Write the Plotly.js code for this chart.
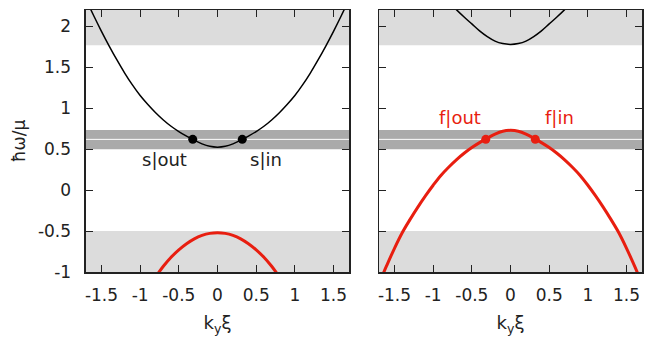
<!DOCTYPE html>
<html>
<head>
<meta charset="utf-8">
<script src="https://cdn.plot.ly/plotly-3.0.1.min.js"></script>
<style>
  html, body { margin: 0; padding: 0; background: #fff; }
  #plot { width: 651px; height: 339px; }
</style>
</head>
<body>
<div id="plot"></div>
<script>
// ---- data ----
const kFull = [-1.7, -1.6, -1.5, -1.4, -1.3, -1.2, -1.1, -1.0, -0.9, -0.8, -0.7, -0.6, -0.5, -0.4, -0.3, -0.2, -0.1,
               0, 0.1, 0.2, 0.3, 0.4, 0.5, 0.6, 0.7, 0.8, 0.9, 1.0, 1.1, 1.2, 1.3, 1.4, 1.5, 1.6, 1.7];
const kShort = [-0.8, -0.7, -0.6, -0.5, -0.4, -0.3, -0.2, -0.1, 0, 0.1, 0.2, 0.3, 0.4, 0.5, 0.6, 0.7, 0.8];

// left panel
const sUpper = [2.33, 2.13, 1.94, 1.76, 1.59, 1.43, 1.285, 1.155, 1.045, 0.945, 0.857, 0.78, 0.715, 0.66, 0.61, 0.565, 0.535,
                0.525, 0.535, 0.565, 0.61, 0.66, 0.715, 0.78, 0.857, 0.945, 1.045, 1.155, 1.285, 1.43, 1.59, 1.76, 1.94, 2.13, 2.33];
const sLower = [-1.06, -0.93, -0.82, -0.73, -0.655, -0.595, -0.553, -0.528, -0.52, -0.528, -0.553, -0.595, -0.655, -0.73, -0.82, -0.93, -1.06];

// right panel
const fUpper = [2.3, 2.205, 2.115, 2.03, 1.945, 1.875, 1.82, 1.79, 1.78, 1.79, 1.82, 1.875, 1.945, 2.03, 2.115, 2.205, 2.3];
const fLower = [-1.14, -0.92, -0.71, -0.52, -0.36, -0.21, -0.07, 0.06, 0.18, 0.28, 0.37, 0.45, 0.52, 0.58, 0.635, 0.685, 0.72,
                0.73, 0.72, 0.685, 0.635, 0.58, 0.52, 0.45, 0.37, 0.28, 0.18, 0.06, -0.07, -0.21, -0.36, -0.52, -0.71, -0.92, -1.14];

// crossing points with the drive line
const dotK = [-0.32, 0.32];
const dotW = [0.62, 0.62];

// gray bands (continuum edges and drive band)
const upperGap = [1.77, 2.2];
const lowerGap = [-1, -0.5];
const driveBand = [0.5, 0.735];
const driveLine = 0.62;

// labels
const sLabels = ['s|out', 's|in'];
const sLabelK = [-0.68, 0.63];
const sLabelW = 0.38;
const fLabels = ['f|out', 'f|in'];
const fLabelK = [-0.65, 0.635];
const fLabelW = 0.885;

const tickK = [-1.5, -1, -0.5, 0, 0.5, 1, 1.5];
const tickKText = ['-1.5', '-1', '-0.5', '0', '0.5', '1', '1.5'];
const tickW = [-1, -0.5, 0, 0.5, 1, 1.5, 2];
const tickWText = ['-1', '-0.5', '0', '0.5', '1', '1.5', '2'];

// ---- styles ----
const RED = 'rgb(232,30,16)';
const BLACK = '#000';
const LIGHT = '#dcdcdc';
const DARK = '#aaaaaa';
const FS = 17;

const traces = [
    { x: kFull, y: sUpper, xaxis: 'x', yaxis: 'y', mode: 'lines', line: { color: BLACK, width: 1.5, shape: 'spline' } },
    { x: kShort, y: sLower, xaxis: 'x', yaxis: 'y', mode: 'lines', line: { color: RED, width: 3, shape: 'spline' } },
    { x: dotK, y: dotW, xaxis: 'x', yaxis: 'y', mode: 'markers', marker: { color: BLACK, size: 9 } },
    { x: kShort, y: fUpper, xaxis: 'x2', yaxis: 'y2', mode: 'lines', line: { color: BLACK, width: 1.5, shape: 'spline' } },
    { x: kFull, y: fLower, xaxis: 'x2', yaxis: 'y2', mode: 'lines', line: { color: RED, width: 3, shape: 'spline' } },
    { x: dotK, y: dotW, xaxis: 'x2', yaxis: 'y2', mode: 'markers', marker: { color: RED, size: 9 } }
];

function bandShapes(xr, yr) {
    const band = (y0, y1, color) => ({
        type: 'rect', xref: xr + ' domain', yref: yr, x0: 0, x1: 1, y0: y0, y1: y1,
        fillcolor: color, line: { width: 0 }, layer: 'below'
    });
    return [
        band(upperGap[0], upperGap[1], LIGHT),
        band(lowerGap[0], lowerGap[1], LIGHT),
        band(driveBand[0], driveBand[1], DARK),
        { type: 'line', xref: xr + ' domain', yref: yr, x0: 0, x1: 1, y0: driveLine, y1: driveLine,
          line: { color: '#fff', width: 1 }, layer: 'below' }
    ];
}

function labelNotes(texts, ks, w, xr, yr, color) {
    return texts.map((t, i) => ({
        text: t, x: ks[i], y: w, xref: xr, yref: yr, showarrow: false,
        font: { size: 18, color: color }
    }));
}

const xAxisBase = {
    range: [-1.7, 1.7],
    tickvals: tickK, ticktext: tickKText,
    ticks: 'inside', ticklen: 7, tickcolor: '#222', tickwidth: 1,
    showline: true, linecolor: '#222', linewidth: 1.5, mirror: 'ticks',
    showgrid: false, zeroline: false,
    ticklabelstandoff: 7,
    title: { text: 'k<sub>y</sub>ξ', standoff: 12, font: { size: 18 } }
};
const yAxisBase = {
    range: [-1, 2.2],
    tickvals: tickW, ticktext: tickWText,
    ticks: 'inside', ticklen: 7, tickcolor: '#222', tickwidth: 1,
    showline: true, linecolor: '#222', linewidth: 1.5, mirror: 'ticks',
    showgrid: false, zeroline: false
};

const layout = {
    width: 651, height: 339,
    margin: { l: 0, r: 0, t: 0, b: 0 },
    paper_bgcolor: '#fff', plot_bgcolor: '#fff',
    font: { family: 'DejaVu Sans, sans-serif', size: FS, color: '#222' },
    showlegend: false,
    xaxis: Object.assign({}, xAxisBase, { domain: [0.1321, 0.5361], anchor: 'y' }),
    xaxis2: Object.assign({}, xAxisBase, { domain: [0.5822, 0.9862], anchor: 'y2' }),
    yaxis: Object.assign({}, yAxisBase, {
        domain: [0.1976, 0.9705], anchor: 'x', ticklabelstandoff: 10,
        title: { text: 'ħω/μ', standoff: 8, font: { size: 17 } }
    }),
    yaxis2: Object.assign({}, yAxisBase, { domain: [0.1976, 0.9705], anchor: 'x2', showticklabels: false }),
    shapes: bandShapes('x', 'y').concat(bandShapes('x2', 'y2')),
    annotations: labelNotes(sLabels, sLabelK, sLabelW, 'x', 'y', '#222')
        .concat(labelNotes(fLabels, fLabelK, fLabelW, 'x2', 'y2', RED))
};

Plotly.newPlot('plot', traces, layout, { displayModeBar: false, staticPlot: true });
</script>
</body>
</html>
